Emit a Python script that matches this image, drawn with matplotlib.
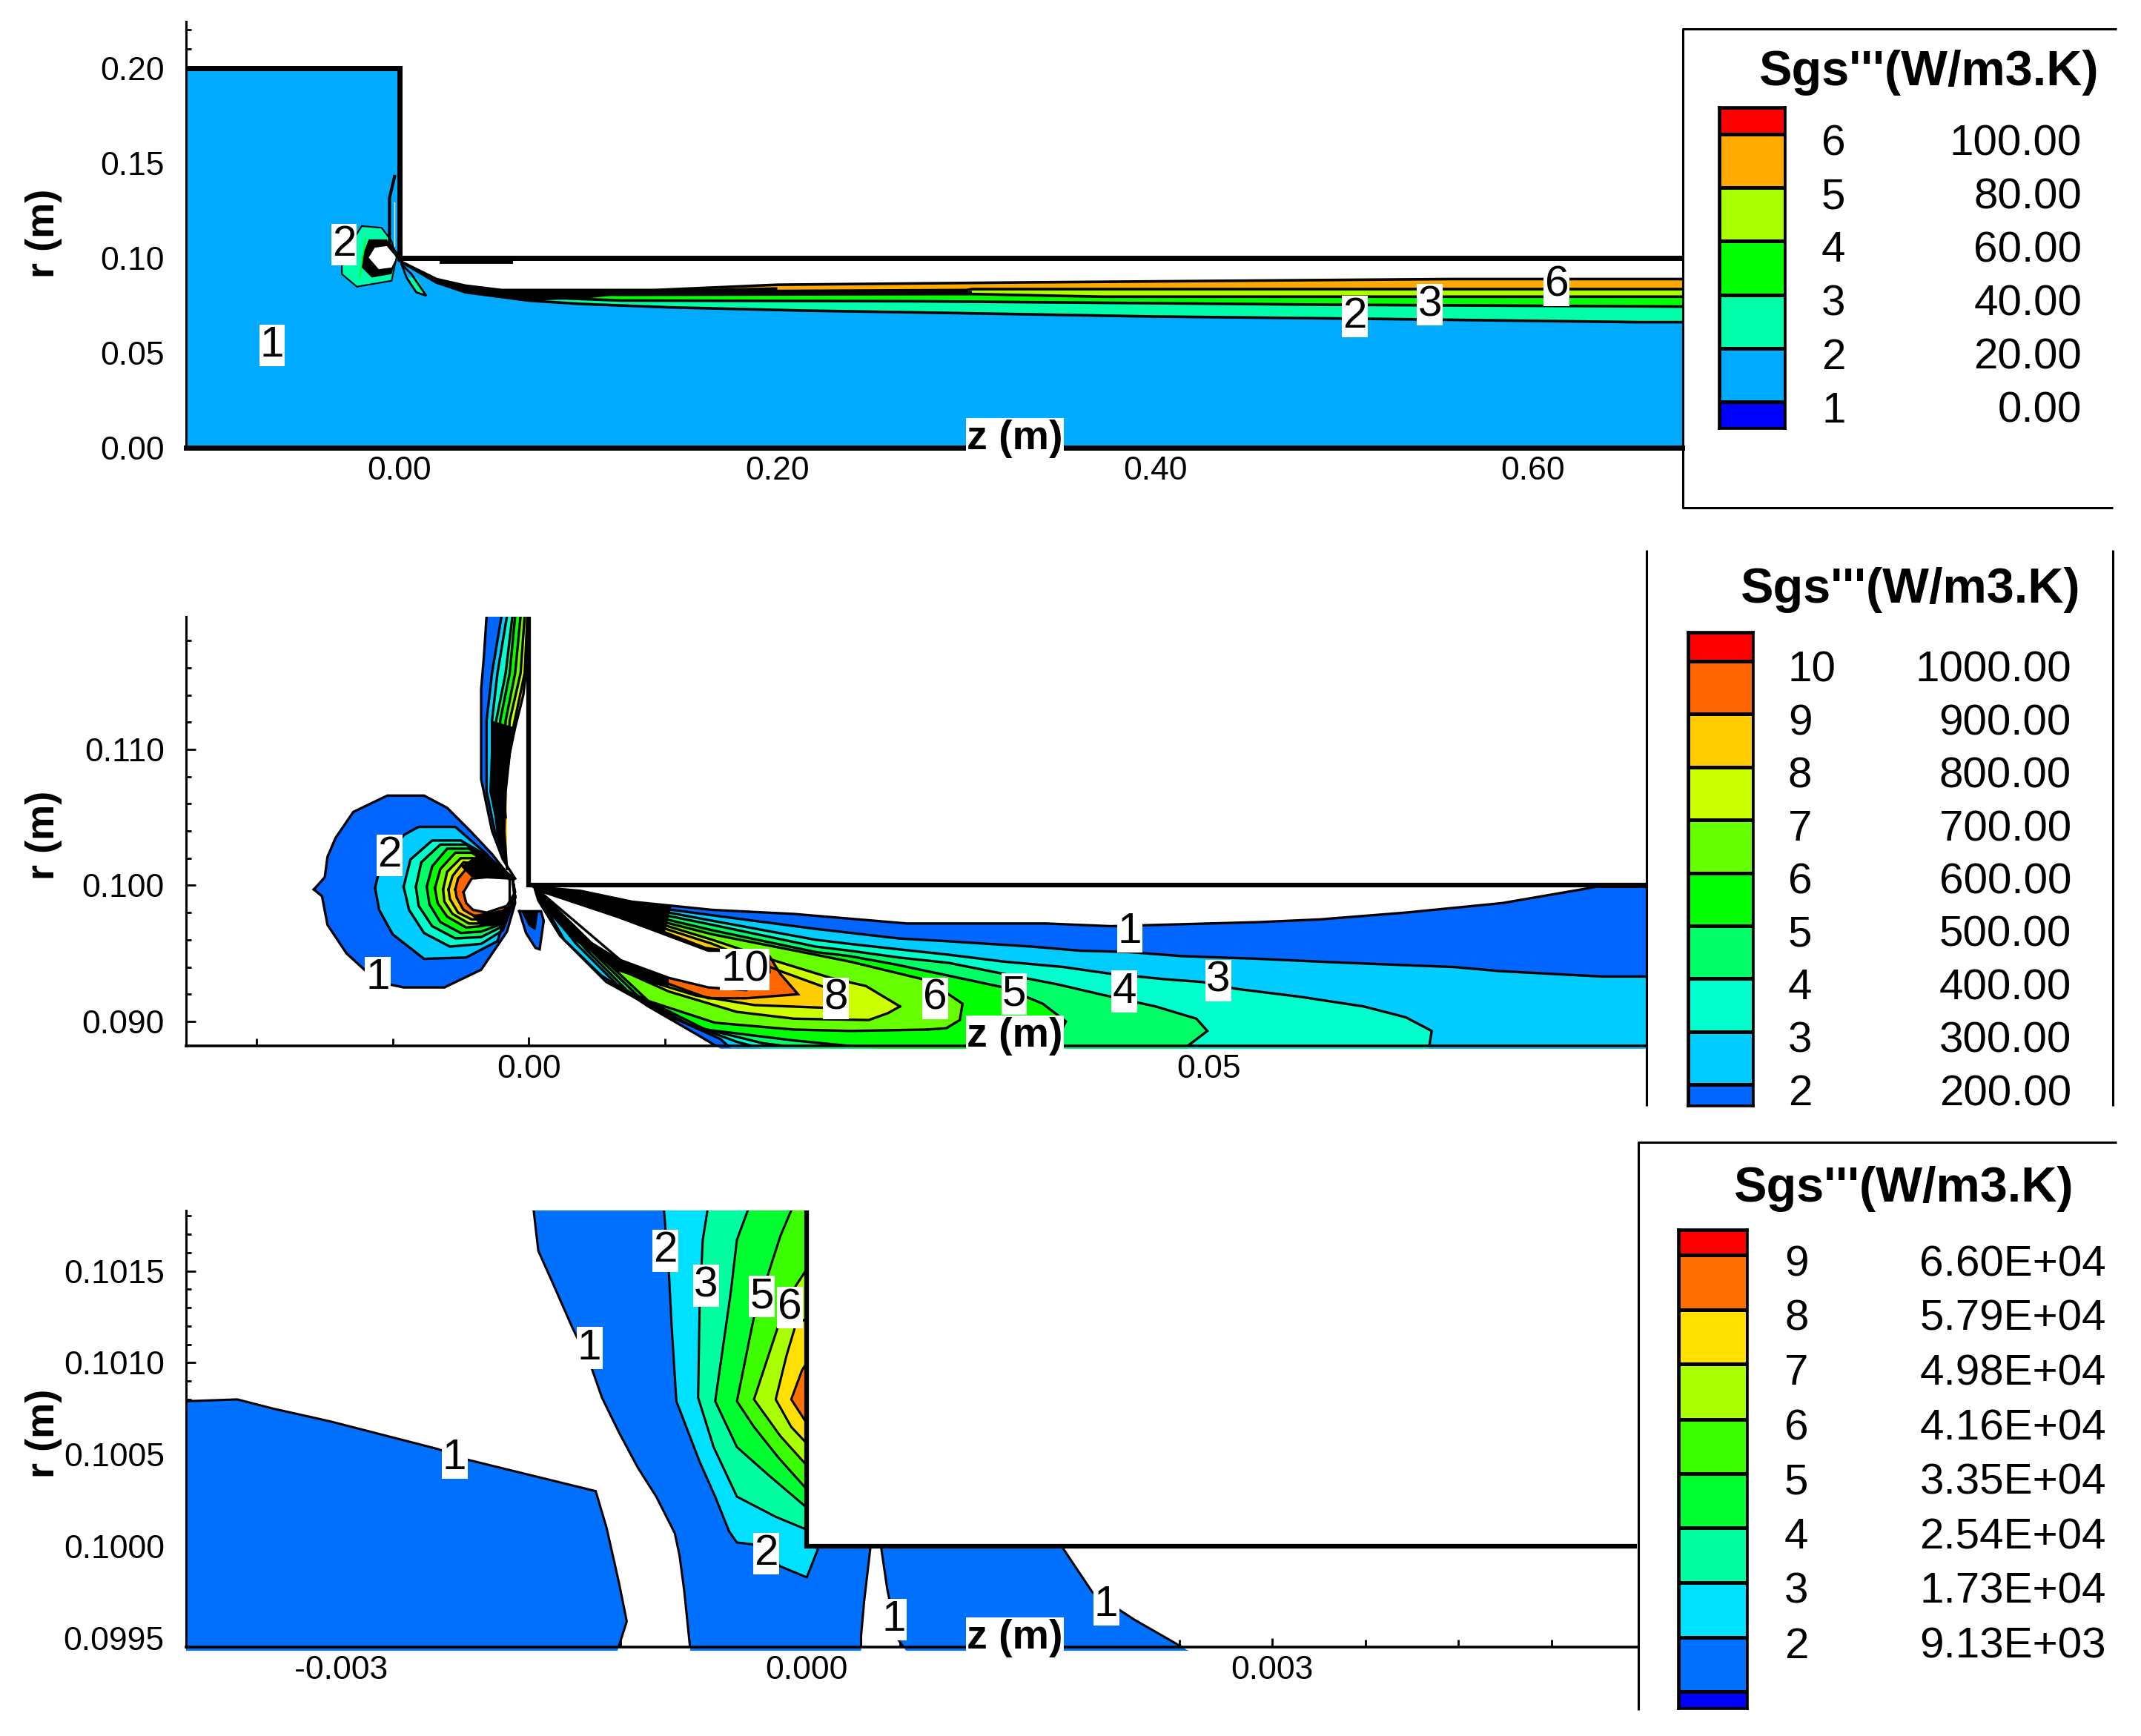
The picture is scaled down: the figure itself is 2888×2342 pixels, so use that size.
import matplotlib
matplotlib.use('Agg')
from matplotlib import pyplot as plt
from matplotlib.colors import ListedColormap
from matplotlib.lines import Line2D
from matplotlib.ticker import AutoMinorLocator
import numpy as np

plt.rcParams['font.family'] = ['Liberation Sans', 'DejaVu Sans']

W, H = 2888, 2342

# ---- top panel, contour lines as (z, r)
P1_DUCT = [(-0.113, 0.2), (0, 0.2), (0, 0.1), (0.679, 0.1)]
P1_C1 = [(0, 0.0984), (0.0195, 0.0870), (0.035, 0.0818), (0.069, 0.0774), (0.096, 0.0757),
         (0.143, 0.0739), (0.214, 0.0722), (0.30, 0.0708), (0.398, 0.0691), (0.519, 0.0678),
         (0.656, 0.0661), (0.679, 0.0661)]
P1_C2 = [(0.0195, 0.0878), (0.035, 0.0830), (0.054, 0.0800), (0.096, 0.0783), (0.117, 0.0775),
         (0.277, 0.0771), (0.49, 0.0753), (0.679, 0.0743)]
P1_C3 = [(0.0195, 0.0882), (0.035, 0.0838), (0.054, 0.0815), (0.117, 0.0805), (0.303, 0.0809),
         (0.372, 0.0795), (0.679, 0.0795)]
P1_C4 = [(0.0195, 0.0885), (0.035, 0.0845), (0.054, 0.0825), (0.2, 0.0825), (0.30, 0.0830),
         (0.303, 0.0835), (0.679, 0.0835)]
P1_TOP = [(0, 0.0984), (0.0195, 0.0888), (0.035, 0.0853), (0.054, 0.0830), (0.135, 0.0830),
          (0.2, 0.0858), (0.327, 0.0870), (0.556, 0.0888), (0.679, 0.0888)]
# lines run together here, so the band reads as solid black
P1_DARK = [(0.0195, 0.0888), (0.035, 0.0853), (0.054, 0.0830), (0.135, 0.0830), (0.2, 0.0845), (0.2, 0.0825),
           (0.303, 0.0825), (0.303, 0.0809), (0.117, 0.0805), (0.096, 0.0783), (0.069, 0.0774), (0.035, 0.0818),
           (0.0195, 0.0870)]
P1_BLOB_OUT = [(-0.0305, 0.1001), (-0.0200, 0.1167), (-0.0095, 0.1158), (-0.0042, 0.1088),
               (-0.0016, 0.1001), (-0.0042, 0.0879), (-0.0226, 0.0848), (-0.0305, 0.0914)]
P1_BLOB_RING = [(-0.0200, 0.1001), (-0.0163, 0.1097), (-0.0068, 0.1097), (-0.0016, 0.1001),
                (-0.0042, 0.0914), (-0.0147, 0.0896), (-0.0200, 0.0949)]
P1_BLOB_HOLE = [(-0.0163, 0.1001), (-0.0131, 0.1053), (-0.0068, 0.1062), (-0.0016, 0.1001),
                (-0.0042, 0.0949), (-0.0110, 0.0940)]
P1_FIN = [(0.0037, 0.0896), (0.0089, 0.0896), (0.0142, 0.0809), (0.0089, 0.0818)]
P1_FIN_EDGE = [(0.0011, 0.0966), (0.0037, 0.0896), (0.0089, 0.0818), (0.0142, 0.0800), (0.0063, 0.0914), (0.0011, 0.0966)]
P1_SPIKE = [(-0.0026, 0.1428), (-0.0053, 0.1315), (-0.0053, 0.1210), (-0.0053, 0.1071), (0, 0.1001)]
P1_NEAR_WALL = [(0.022, 0.0979), (0.059, 0.0979)]
P1_LEVELS = ['1', '2', '3', '4', '5', '6']
P1_VALUES = ['0.00', '20.00', '40.00', '60.00', '80.00', '100.00']
P1_EDGES = [-10, 0, 20, 40, 60, 80, 100, 110]
P1_COLORS = ['#0000FF', '#00AAFF', '#00FFAA', '#00FF00', '#AAFF00', '#FFAA00', '#FF0000']
P1_LABELS = [('2', -0.0294, 0.1069), ('1', -0.0675, 0.0539), ('2', 0.5056, 0.0691),
             ('3', 0.5455, 0.0753), ('6', 0.6126, 0.0855)]
P1_XTICKS = [0.0, 0.2, 0.4, 0.6]
P1_YTICKS = [0.0, 0.05, 0.10, 0.15, 0.20]

# ---- middle panel
P2_DUCT = [(0, 0.11975), (0, 0.1), (0.0822, 0.1)]
P2_B1 = [(-0.0158, 0.0997), (-0.0150, 0.1006), (-0.0148, 0.1021), (-0.0142, 0.1035), (-0.0129, 0.1054),
         (-0.0104, 0.1066), (-0.0077, 0.1066), (-0.0060, 0.1057), (-0.0043, 0.1040), (-0.0027, 0.1023),
         (-0.0012, 0.1004), (-0.0010, 0.0987), (-0.0016, 0.0966), (-0.0035, 0.0938), (-0.0062, 0.0925),
         (-0.0092, 0.0925), (-0.0111, 0.0929), (-0.0134, 0.0950), (-0.0148, 0.0971), (-0.0152, 0.0992)]
P2_B2 = [(-0.0113, 0.0998), (-0.0110, 0.1011), (-0.0092, 0.1037), (-0.0081, 0.1043), (-0.0054, 0.1043),
         (-0.0031, 0.1023), (-0.0014, 0.1004), (-0.0014, 0.0987), (-0.0023, 0.0959), (-0.0046, 0.0947),
         (-0.0077, 0.0946), (-0.0100, 0.0964), (-0.0110, 0.0982)]
P2_B3 = [(-0.0092, 0.0999), (-0.0087, 0.1019), (-0.0071, 0.1033), (-0.0050, 0.1033), (-0.0031, 0.1022),
         (-0.0012, 0.1006), (-0.0010, 0.0991), (-0.0019, 0.0967), (-0.0035, 0.0957), (-0.0058, 0.0955),
         (-0.0077, 0.0965), (-0.0088, 0.0982)]
P2_B4 = [(-0.0083, 0.0999), (-0.0079, 0.1017), (-0.0065, 0.1030), (-0.0046, 0.1030), (-0.0029, 0.1018),
         (-0.0012, 0.1006), (-0.0010, 0.0991), (-0.0019, 0.0970), (-0.0035, 0.0962), (-0.0054, 0.0961),
         (-0.0071, 0.0970), (-0.0081, 0.0985)]
P2_B5 = [(-0.0075, 0.0999), (-0.0071, 0.1014), (-0.0060, 0.1027), (-0.0044, 0.1027), (-0.0027, 0.1016),
         (-0.0012, 0.1006), (-0.0010, 0.0991), (-0.0019, 0.0972), (-0.0035, 0.0966), (-0.0050, 0.0965),
         (-0.0065, 0.0973), (-0.0073, 0.0986)]
P2_B6 = [(-0.0069, 0.0998), (-0.0065, 0.1012), (-0.0054, 0.1024), (-0.0042, 0.1024), (-0.0025, 0.1014),
         (-0.0012, 0.1006), (-0.0010, 0.0991), (-0.0019, 0.0974), (-0.0035, 0.0970), (-0.0046, 0.0969),
         (-0.0060, 0.0977), (-0.0067, 0.0987)]
P2_B7 = [(-0.0063, 0.0997), (-0.0060, 0.1010), (-0.0050, 0.1020), (-0.0041, 0.1020), (-0.0023, 0.1013),
         (-0.0012, 0.1006), (-0.0010, 0.0991), (-0.0019, 0.0977), (-0.0035, 0.0972), (-0.0044, 0.0972),
         (-0.0056, 0.0979), (-0.0062, 0.0988)]
P2_B8 = [(-0.0059, 0.0997), (-0.0056, 0.1007), (-0.0048, 0.1017), (-0.0039, 0.1016), (-0.0021, 0.1012),
         (-0.0012, 0.1006), (-0.0010, 0.0991), (-0.0019, 0.0979), (-0.0035, 0.0975), (-0.0042, 0.0975),
         (-0.0052, 0.0980), (-0.0058, 0.0990)]
P2_B9 = [(-0.0054, 0.0997), (-0.0052, 0.1005), (-0.0046, 0.1012), (-0.0035, 0.1012), (-0.0019, 0.1010),
         (-0.0012, 0.1006), (-0.0010, 0.0991), (-0.0019, 0.0981), (-0.0035, 0.0977), (-0.0041, 0.0978),
         (-0.0048, 0.0982), (-0.0053, 0.0991)]
P2_HOLE = [(-0.0048, 0.0995), (-0.0042, 0.1005), (-0.0031, 0.1006), (-0.0012, 0.1005), (-0.0010, 0.0995),
           (-0.0016, 0.0985), (-0.0031, 0.0980), (-0.0041, 0.0982), (-0.0046, 0.0987)]
P2_BLOB_DARK_UP = [(-0.0035, 0.1024), (-0.0012, 0.1006), (-0.0042, 0.1006), (-0.0050, 0.1014)]
P2_BLOB_DARK_LOW = [(-0.0042, 0.0978), (-0.0014, 0.0983), (-0.0019, 0.0970), (-0.0035, 0.0970)]

P2_SPIKE_R = [(0.0, 0.1198), (0.0, 0.1173), (-0.0004, 0.1140), (-0.0010, 0.1116), (-0.0014, 0.1097),
              (-0.0017, 0.1069), (-0.0018, 0.1040), (-0.0016, 0.1012)]
P2_S1 = [(-0.0031, 0.1198), (-0.0033, 0.1168), (-0.0035, 0.1144), (-0.0035, 0.1078), (-0.0031, 0.1059),
         (-0.0027, 0.1040), (-0.0019, 0.1019), (-0.0010, 0.1005)]
P2_S2 = [(-0.0020, 0.1198), (-0.0027, 0.1156), (-0.0031, 0.1121), (-0.0031, 0.1069), (-0.0025, 0.1040),
         (-0.0017, 0.1019)]
P2_S3 = [(-0.0016, 0.1198), (-0.0023, 0.1156), (-0.0027, 0.1121), (-0.0027, 0.1073), (-0.0023, 0.1040),
         (-0.0016, 0.1014)]
P2_S4 = [(-0.0012, 0.1198), (-0.0017, 0.1156), (-0.0024, 0.1121), (-0.0024, 0.1073), (-0.0020, 0.1040)]
P2_S5 = [(-0.0010, 0.1198), (-0.0014, 0.1156), (-0.0021, 0.1121), (-0.0021, 0.1073), (-0.0018, 0.1040)]
P2_S6 = [(-0.0006, 0.1198), (-0.0010, 0.1156), (-0.0017, 0.1121), (-0.0019, 0.1073), (-0.0017, 0.1050)]
P2_S7 = [(-0.0003, 0.1198), (-0.0006, 0.1156), (-0.0014, 0.1121), (-0.0017, 0.1073)]
P2_S8 = [(-0.0001, 0.1198), (-0.0003, 0.1156), (-0.0011, 0.1118), (-0.0016, 0.1083)]
P2_S_DARK = [(-0.0027, 0.1121), (-0.0010, 0.1116), (-0.0014, 0.1097), (-0.0017, 0.1069), (-0.0018, 0.1040),
             (-0.0016, 0.1012), (-0.0023, 0.1040), (-0.0029, 0.1069)]
P2_LEAF = [(-0.0007, 0.0981), (0.0009, 0.0981), (0.0011, 0.0974), (0.0008, 0.0953), (0.0005, 0.0954), (-0.0002, 0.0965)]
P2_LEAF_DARK = [(-0.0005, 0.0980), (0.0007, 0.0981), (0.0005, 0.0967), (0.0, 0.0970)]

P2_F1_TOP = [(0.0004, 0.0999), (0.0038, 0.0996), (0.0076, 0.0988), (0.0135, 0.0982), (0.0195, 0.0979),
             (0.0278, 0.0972), (0.0380, 0.0972), (0.0428, 0.0970), (0.0537, 0.0973), (0.0582, 0.0975),
             (0.0645, 0.0980), (0.0716, 0.0987), (0.0774, 0.0997), (0.0785, 0.0999), (0.0822, 0.0999)]
P2_F1_BOT = [(0.0004, 0.0999), (0.0007, 0.0989), (0.0023, 0.0963), (0.0053, 0.0934), (0.0088, 0.0911),
             (0.0126, 0.0889), (0.0141, 0.0880)]
P2_F2_TOP = [(0.0004, 0.0999), (0.0076, 0.0986), (0.0135, 0.0978), (0.0211, 0.0968), (0.0272, 0.0961),
             (0.0307, 0.0959), (0.0338, 0.0957), (0.0370, 0.0955), (0.0405, 0.0952), (0.0441, 0.0951),
             (0.0480, 0.0948), (0.0537, 0.0946), (0.0580, 0.0944), (0.0628, 0.0942), (0.0680, 0.0940),
             (0.0714, 0.0937), (0.0751, 0.0935), (0.0789, 0.0933), (0.0822, 0.0933)]
P2_F2_BOT = [(0.0004, 0.0999), (0.0026, 0.0960), (0.0057, 0.0929), (0.0099, 0.0906), (0.0141, 0.0887), (0.0149, 0.0880)]
P2_F3_TOP = [(0.0004, 0.0999), (0.0076, 0.0985), (0.0135, 0.0974), (0.0211, 0.0960), (0.0236, 0.0957),
             (0.0272, 0.0953), (0.0309, 0.0949), (0.0349, 0.0944), (0.0393, 0.0940), (0.0428, 0.0935),
             (0.0468, 0.0931), (0.0495, 0.0929), (0.0520, 0.0924), (0.0568, 0.0918), (0.0614, 0.0911),
             (0.0645, 0.0903), (0.0664, 0.0893), (0.0662, 0.0880)]
P2_F3_BOT = [(0.0004, 0.0999), (0.0034, 0.0958), (0.0065, 0.0927), (0.0107, 0.0902), (0.0153, 0.0885), (0.0172, 0.0880)]
P2_F4_TOP = [(0.0004, 0.0999), (0.0076, 0.0983), (0.0135, 0.0971), (0.0211, 0.0955), (0.0236, 0.0952),
             (0.0272, 0.0947), (0.0309, 0.0943), (0.0349, 0.0935), (0.0390, 0.0927), (0.0420, 0.0920),
             (0.0461, 0.0911), (0.0491, 0.0902), (0.0499, 0.0893), (0.0482, 0.0880)]
P2_F4_BOT = [(0.0004, 0.0999), (0.0042, 0.0953), (0.0073, 0.0922), (0.0119, 0.0897), (0.0172, 0.0884), (0.0203, 0.0880)]
P2_F5_TOP = [(0.0004, 0.0999), (0.0076, 0.0981), (0.0135, 0.0967), (0.0211, 0.0951), (0.0236, 0.0948),
             (0.0269, 0.0942), (0.0307, 0.0934), (0.0349, 0.0925), (0.0378, 0.0913), (0.0395, 0.0900), (0.0385, 0.0880)]
P2_F5_BOT = [(0.0004, 0.0999), (0.0050, 0.0948), (0.0080, 0.0919), (0.0130, 0.0894), (0.0195, 0.0886), (0.0256, 0.0880)]
P2_F6_TOP = [(0.0004, 0.0999), (0.0076, 0.0979), (0.0135, 0.0964), (0.0211, 0.0949), (0.0236, 0.0944),
             (0.0265, 0.0937), (0.0294, 0.0930), (0.0319, 0.0913), (0.0317, 0.0901), (0.0307, 0.0895), (0.0293, 0.0894)]
P2_F6_BOT = [(0.0004, 0.0999), (0.0057, 0.0944), (0.0088, 0.0915), (0.0137, 0.0899), (0.0195, 0.0894), (0.0237, 0.0893), (0.0293, 0.0894)]
P2_F7_TOP = [(0.0004, 0.0999), (0.0076, 0.0978), (0.0135, 0.0960), (0.0183, 0.0944), (0.0222, 0.0932),
             (0.0248, 0.0926), (0.0273, 0.0911)]
P2_F7_BOT = [(0.0004, 0.0999), (0.0065, 0.0939), (0.0103, 0.0922), (0.0153, 0.0907), (0.0195, 0.0902),
             (0.0250, 0.0901), (0.0264, 0.0906), (0.0273, 0.0911)]
P2_F8_TOP = [(0.0004, 0.0999), (0.0076, 0.0976), (0.0135, 0.0957), (0.0185, 0.0937), (0.0218, 0.0925), (0.0233, 0.0915)]
P2_F8_BOT = [(0.0004, 0.0999), (0.0084, 0.0931), (0.0123, 0.0919), (0.0166, 0.0912), (0.0218, 0.0910), (0.0233, 0.0915)]
P2_F9 = [(0.0005, 0.0997), (0.0065, 0.0979), (0.0130, 0.0954), (0.0177, 0.0948), (0.0185, 0.0935), (0.0198, 0.0920),
         (0.0160, 0.0917), (0.0132, 0.0917), (0.0088, 0.0933), (0.0045, 0.0955), (0.0015, 0.0981)]
P2_WEDGE = [(0.0005, 0.0997), (0.0065, 0.0977), (0.0132, 0.0952), (0.0176, 0.0952), (0.0177, 0.0936), (0.0160, 0.0923),
            (0.0132, 0.0925), (0.0103, 0.0932), (0.0065, 0.0946), (0.0026, 0.0970), (0.0007, 0.0991)]
P2_FAN_DARK_UP = [(0.0005, 0.0997), (0.0038, 0.0996), (0.0076, 0.0988), (0.0105, 0.0985), (0.0100, 0.0965), (0.0065, 0.0977)]
P2_FAN_DARK_LOW = [(0.0007, 0.0991), (0.0026, 0.0970), (0.0065, 0.0946), (0.0103, 0.0932), (0.0103, 0.0925),
                   (0.0065, 0.0937), (0.0030, 0.0962), (0.0007, 0.0989)]
P2_LEVELS = ['2', '3', '4', '5', '6', '7', '8', '9', '10']
P2_VALUES = ['200.00', '300.00', '400.00', '500.00', '600.00', '700.00', '800.00', '900.00', '1000.00']
P2_EDGES = [160, 200, 300, 400, 500, 600, 700, 800, 900, 1000, 1054]
P2_COLORS = ['#0066FF', '#00CCFF', '#00FFCC', '#00FF66', '#00FF00', '#66FF00', '#CCFF00', '#FFCC00', '#FF6600', '#FF0000']
P2_LABELS = [('2', -0.01025, 0.1022), ('1', -0.0111, 0.0932), ('10', 0.0159, 0.0938), ('8', 0.0226, 0.0917),
             ('6', 0.0299, 0.0917), ('5', 0.0357, 0.0920), ('4', 0.0438, 0.0922), ('3', 0.0507, 0.0930),
             ('1', 0.0442, 0.0966)]
P2_XTICKS = [0.0, 0.05]
P2_YTICKS = [0.09, 0.10, 0.11]

# ---- bottom panel
P3_TOP = 0.10183
P3_BOTTOM = 0.09943
P3_A = [(-0.00400, 0.10079), (-0.00367, 0.10080), (-0.00344, 0.10075), (-0.00307, 0.10068), (-0.00238, 0.10053),
        (-0.00218, 0.10047), (-0.00136, 0.10030), (-0.00129, 0.10010), (-0.00121, 0.09980), (-0.00116, 0.09959),
        (-0.00122, 0.09943)]
P3_B_LEFT = [(-0.00176, 0.10183), (-0.00173, 0.10161), (-0.00164, 0.10144), (-0.00151, 0.10119), (-0.00139, 0.10098),
             (-0.00132, 0.10081), (-0.00121, 0.10062), (-0.00109, 0.10043), (-0.00097, 0.10027), (-0.00085, 0.10007),
             (-0.00082, 0.09995), (-0.00079, 0.09976), (-0.00075, 0.09943)]
P3_B_RIGHT = [(0.00035, 0.09943), (0.00035, 0.09951), (0.00037, 0.09970), (0.00041, 0.09999)]
P3_C_LEFT = [(0.00048, 0.09999), (0.00052, 0.09976), (0.00059, 0.09949), (0.00064, 0.09943)]
P3_C_RIGHT = [(0.00246, 0.09943), (0.00211, 0.09960), (0.00184, 0.09975), (0.00165, 0.09999)]
P3_L2 = [(-0.00092, 0.10183), (-0.00089, 0.10152), (-0.00087, 0.10119), (-0.00084, 0.10079), (-0.00069, 0.10046),
         (-0.00059, 0.10027), (-0.00050, 0.10008), (-0.00045, 0.10002), (-0.00035, 0.10001), (-0.00017, 0.09989),
         (0.0, 0.09983), (0.00007, 0.09998)]
P3_L3 = [(-0.00064, 0.10183), (-0.00067, 0.10167), (-0.00069, 0.10132), (-0.00070, 0.10081), (-0.00060, 0.10054),
         (-0.00045, 0.10027), (-0.00020, 0.10016), (0.0, 0.10009)]
P3_L4 = [(-0.00038, 0.10183), (-0.00045, 0.10167), (-0.00049, 0.10138), (-0.00059, 0.10079), (-0.00045, 0.10054),
         (-0.00025, 0.10039), (0.0, 0.10021)]
P3_L5 = [(-0.00010, 0.10183), (-0.00017, 0.10169), (-0.00025, 0.10148), (-0.00034, 0.10125), (-0.00045, 0.10079),
         (-0.00034, 0.10065), (-0.00018, 0.10048), (0.0, 0.10031)]
P3_L6 = [(0.0, 0.10151), (-0.00007, 0.10142), (-0.00018, 0.10121), (-0.00034, 0.10080), (-0.00017, 0.10060), (0.0, 0.10044)]
P3_L7 = [(0.0, 0.10124), (-0.00007, 0.10121), (-0.00013, 0.10104), (-0.00020, 0.10080), (-0.00010, 0.10065), (0.0, 0.10056)]
P3_L8 = [(0.0, 0.10100), (-0.00003, 0.10096), (-0.00010, 0.10080), (0.0, 0.10067)]
P3_LEVELS = ['2', '3', '4', '5', '6', '7', '8', '9']
P3_VALUES = ['9.13E+03', '1.73E+04', '2.54E+04', '3.35E+04', '4.16E+04', '4.98E+04', '5.79E+04', '6.60E+04']
P3_EDGES = [-1500, 1000, 9130, 17300, 25400, 33500, 41600, 49800, 57900, 66000, 69800]
P3_COLORS = ['#0000FF', '#0070FF', '#00E0FF', '#00FFA0', '#00FF30', '#3CFF00', '#AAFF00', '#FFE000', '#FF7000', '#FF0000']
P3_LABELS = [('1', -0.00227, 0.10048), ('1', -0.00140, 0.10108), ('2', -0.00091, 0.10161), ('3', -0.00065, 0.10142),
             ('5', -0.00029, 0.10136), ('6', -0.00011, 0.10130), ('2', -0.00026, 0.09996), ('1', 0.00056, 0.09960),
             ('1', 0.00193, 0.09968)]
P3_XTICKS = [-0.003, 0.0, 0.003]
P3_YTICKS = [0.0995, 0.1000, 0.1005, 0.1010, 0.1015]

TITLE = "Sgs'''(W/m3.K)"


def px_axes(fig, left, top, right, bottom, **kw):
    return fig.add_axes([left / W, 1 - bottom / H, (right - left) / W, (bottom - top) / H], **kw)


def fig_line(fig, xs, ys, lw=2.2):
    fig.add_artist(Line2D([x / W for x in xs], [1 - y / H for y in ys], color='k', lw=lw,
                          solid_capstyle='butt'))


def fill(ax, pts, color, edge=True, closed=True, lw=2.4, clip=False):
    a = np.array(pts)
    ax.fill(a[:, 0], a[:, 1], color=color, lw=0, clip_on=clip, zorder=2)
    if edge:
        line(ax, pts + pts[:1] if closed else pts, lw)


def line(ax, pts, lw=2.4, color='k', z=3):
    a = np.array(pts)
    ax.plot(a[:, 0], a[:, 1], color=color, lw=lw, zorder=z, solid_joinstyle='miter')


def fan(ax, top, bot, color, corner=None):
    pts = top + ([corner] if corner else []) + bot[::-1]
    fill(ax, pts, color, edge=False)
    line(ax, top)
    line(ax, bot)


def style(ax, xlim, ylim, xticks, yticks, xfmt, yfmt, bottom_lw, x_minor_len):
    ax.set_xlim(*xlim)
    ax.set_ylim(*ylim)
    ax.patch.set_alpha(0)
    ax.set_xticks(xticks)
    ax.set_yticks(yticks)
    ax.set_xticklabels([xfmt % t for t in xticks])
    ax.set_yticklabels([yfmt % t for t in yticks])
    ax.xaxis.set_minor_locator(AutoMinorLocator(5))
    ax.yaxis.set_minor_locator(AutoMinorLocator(5))
    ax.tick_params(axis='both', which='major', direction='in', length=9, width=2, labelsize=32, zorder=6)
    ax.tick_params(axis='y', which='minor', direction='in', length=5, width=2, zorder=6)
    ax.tick_params(axis='x', which='minor', direction='in', length=x_minor_len, width=2, zorder=6)
    ax.tick_params(axis='x', pad=8)
    ax.tick_params(axis='y', pad=21)
    for s in ['top', 'right']:
        ax.spines[s].set_visible(False)
    ax.spines['left'].set_linewidth(2.2)
    ax.spines['bottom'].set_linewidth(bottom_lw)
    ax.spines['left'].set_zorder(8)
    ax.spines['bottom'].set_zorder(8)


def labels(ax, items):
    for s, z, r in items:
        ax.text(z, r, s, fontsize=42, ha='center', va='center', zorder=9,
                bbox=dict(fc='white', ec='none', pad=1))


def axis_names(fig, ax, z_x, z_y, r_y):
    fig.text(z_x / W, 1 - z_y / H, 'z (m)', fontsize=40, fontweight='bold', ha='center', va='center', zorder=20,
             bbox=dict(fc='white', ec='none', pad=1))
    fig.text(59 / W, 1 - r_y / H, 'r (m)', fontsize=39, fontweight='bold', rotation=90, ha='center', va='center')


def legend(fig, bar, edges, colors, levels, values, num_x, val_x, title_x, title_y):
    cax = px_axes(fig, *bar)
    cmap = ListedColormap(colors)
    data = np.arange(len(colors)).reshape(-1, 1)
    cax.pcolormesh([0, 1], edges, data, cmap=cmap, edgecolors='k', linewidth=2.2,
                   vmin=-0.5, vmax=len(colors) - 0.5)
    cax.set_xticks([])
    cax.set_yticks([])
    cax.set_ylim(edges[0], edges[-1])
    for s in cax.spines.values():
        s.set_linewidth(2.6)
    lev_edges = edges[-len(levels) - 1:-1]
    for lev, val, e in zip(levels, values, lev_edges):
        y = cax.transData.transform((0, e))[1] - 13
        fig.text(num_x / W, y / H, lev, fontsize=42, ha='left', va='center')
        fig.text(val_x / W, y / H, val, fontsize=42, ha='right', va='center')
    fig.text(title_x / W, 1 - title_y / H, TITLE, fontsize=48, fontweight='bold', ha='center', va='center')


fig = plt.figure(figsize=(W / 100, H / 100), dpi=100, facecolor='white')

# --- top panel
ax1 = px_axes(fig, 251, 29, 2269, 604)
blue_region = [(-0.113, 0.0), (-0.113, 0.2), (0.0, 0.2)] + P1_C1 + [(0.679, 0.0)]
fill(ax1, blue_region, '#00AAFF', edge=False, clip=True)
for low, col in [(P1_C1, '#00FFAA'), (P1_C2, '#00FF00'), (P1_C3, '#AAFF00'), (P1_C4, '#FFAA00')]:
    fill(ax1, low + P1_TOP[::-1], col, edge=False, clip=True)
fill(ax1, P1_DARK, 'k', edge=False)
for c in [P1_C1, P1_C2, P1_C3, P1_C4, P1_TOP]:
    line(ax1, c, lw=2.6)
fill(ax1, P1_BLOB_OUT, '#00FFAA', lw=1.5)
fill(ax1, P1_BLOB_RING, 'k', edge=False)
line(ax1, [(-0.0210, 0.0900), (-0.0180, 0.1100)], lw=1.2, color='#00FF00')
fill(ax1, P1_BLOB_HOLE, 'white', edge=False)
fill(ax1, P1_FIN, '#00FFAA', edge=False)
line(ax1, P1_FIN_EDGE, lw=2)
line(ax1, P1_SPIKE, lw=3)
line(ax1, [(-0.0026, 0.1290), (-0.0026, 0.1060)], lw=1, color='white', z=4)
line(ax1, P1_NEAR_WALL, lw=3.5)
line(ax1, P1_DUCT, lw=5, z=7)
labels(ax1, P1_LABELS)
style(ax1, (-0.113, 0.679), (0.0, 0.2244), P1_XTICKS, P1_YTICKS, '%.2f', '%.2f', 5, 5)
axis_names(fig, ax1, 1369, 592, 315)
legend(fig, (2319, 145, 2408, 578), P1_EDGES, P1_COLORS, P1_LEVELS, P1_VALUES, 2457, 2808, 2601, 98)
fig_line(fig, [2855, 2270, 2270, 2850], [39, 39, 685, 685])

# --- middle panel
ax2 = px_axes(fig, 251, 832, 2221, 1411)
for pts, col in [(P2_B1, '#0066FF'), (P2_B2, '#00CCFF'), (P2_B3, '#00FFCC'), (P2_B4, '#00FF66'),
                 (P2_B5, '#00FF00'), (P2_B6, '#66FF00'), (P2_B7, '#CCFF00'), (P2_B8, '#FFCC00'), (P2_B9, '#FF6600')]:
    fill(ax2, pts, col)
fill(ax2, P2_BLOB_DARK_UP, 'k', edge=False)
fill(ax2, P2_BLOB_DARK_LOW, 'k', edge=False)
fill(ax2, P2_HOLE, 'white')
for pts, col in [(P2_S1, '#0066FF'), (P2_S2, '#00CCFF'), (P2_S3, '#00FFCC'), (P2_S4, '#00FF66'),
                 (P2_S5, '#00FF00'), (P2_S6, '#66FF00'), (P2_S7, '#CCFF00'), (P2_S8, '#FFCC00')]:
    fill(ax2, pts + P2_SPIKE_R[::-1], col, edge=False, clip=True)
    line(ax2, pts)
line(ax2, P2_SPIKE_R)
fill(ax2, P2_S_DARK, 'k', edge=False)
fill(ax2, P2_LEAF, '#0066FF')
fill(ax2, P2_LEAF_DARK, 'k', edge=False)
corner = (0.0822, 0.0880)
fan(ax2, P2_F1_TOP, P2_F1_BOT, '#0066FF', corner)
fan(ax2, P2_F2_TOP, P2_F2_BOT, '#00CCFF', corner)
fan(ax2, P2_F3_TOP, P2_F3_BOT, '#00FFCC')
fan(ax2, P2_F4_TOP, P2_F4_BOT, '#00FF66')
fan(ax2, P2_F5_TOP, P2_F5_BOT, '#00FF00')
fan(ax2, P2_F6_TOP, P2_F6_BOT, '#66FF00')
fan(ax2, P2_F7_TOP, P2_F7_BOT, '#CCFF00')
fan(ax2, P2_F8_TOP, P2_F8_BOT, '#FFCC00')
fill(ax2, P2_F9, '#FF6600')
fill(ax2, P2_FAN_DARK_UP, 'k', edge=False)
fill(ax2, P2_FAN_DARK_LOW, 'k', edge=False)
fill(ax2, P2_WEDGE, 'white')
line(ax2, P2_DUCT, lw=4.5, z=7)
labels(ax2, P2_LABELS)
style(ax2, (-0.0252, 0.0822), (0.0882, 0.11975), P2_XTICKS, P2_YTICKS, '%.2f', '%.3f', 2.6, 7)
axis_names(fig, ax2, 1369, 1398, 1127)
legend(fig, (2277, 853, 2365, 1492), P2_EDGES, P2_COLORS, P2_LEVELS, P2_VALUES, 2412, 2794, 2576, 796)
fig_line(fig, [2221, 2221], [742, 1492])
fig_line(fig, [2850, 2850], [742, 1492])

# --- bottom panel
ax3 = px_axes(fig, 251, 1633, 2208, 2222)
BLUE3 = '#0070FF'
fill(ax3, [(-0.00400, P3_BOTTOM)] + P3_A, BLUE3, edge=False)
line(ax3, P3_A, lw=2.2)
fill(ax3, P3_B_LEFT + P3_B_RIGHT + [(0.0, 0.1), (0.0, P3_TOP)], BLUE3, edge=False)
line(ax3, P3_B_LEFT, lw=2.2)
line(ax3, P3_B_RIGHT, lw=2.2)
fill(ax3, P3_C_LEFT + P3_C_RIGHT, BLUE3, edge=False)
line(ax3, P3_C_LEFT, lw=2.2)
line(ax3, P3_C_RIGHT, lw=2.2)
for pts, col, cap in [(P3_L2, '#00E0FF', [(0.0, 0.1), (0.0, P3_TOP)]), (P3_L3, '#00FFA0', [(0.0, P3_TOP)]),
                      (P3_L4, '#00FF30', [(0.0, P3_TOP)]), (P3_L5, '#3CFF00', [(0.0, P3_TOP)]),
                      (P3_L6, '#AAFF00', []), (P3_L7, '#FFE000', []), (P3_L8, '#FF7000', [])]:
    fill(ax3, pts + cap, col, edge=False)
    line(ax3, pts, lw=2.2)
line(ax3, [(0.0, P3_TOP), (0.0, 0.1), (0.00041, 0.1)], lw=4.5, z=7)
line(ax3, [(0.00044, 0.1), (0.00535, 0.1)], lw=4.5, z=7)
labels(ax3, P3_LABELS)
style(ax3, (-0.0040, 0.00535), (0.09945, P3_TOP), P3_XTICKS, P3_YTICKS, '%.3f', '%.4f', 2.6, 7)
axis_names(fig, ax3, 1369, 2210, 1934)
legend(fig, (2264, 1659, 2357, 2305), P3_EDGES, P3_COLORS, P3_LEVELS, P3_VALUES, 2407, 2841, 2567, 1604)
fig_line(fig, [2855, 2210, 2210], [1541, 1541, 2307])

fig.savefig('out.png', dpi=100)
